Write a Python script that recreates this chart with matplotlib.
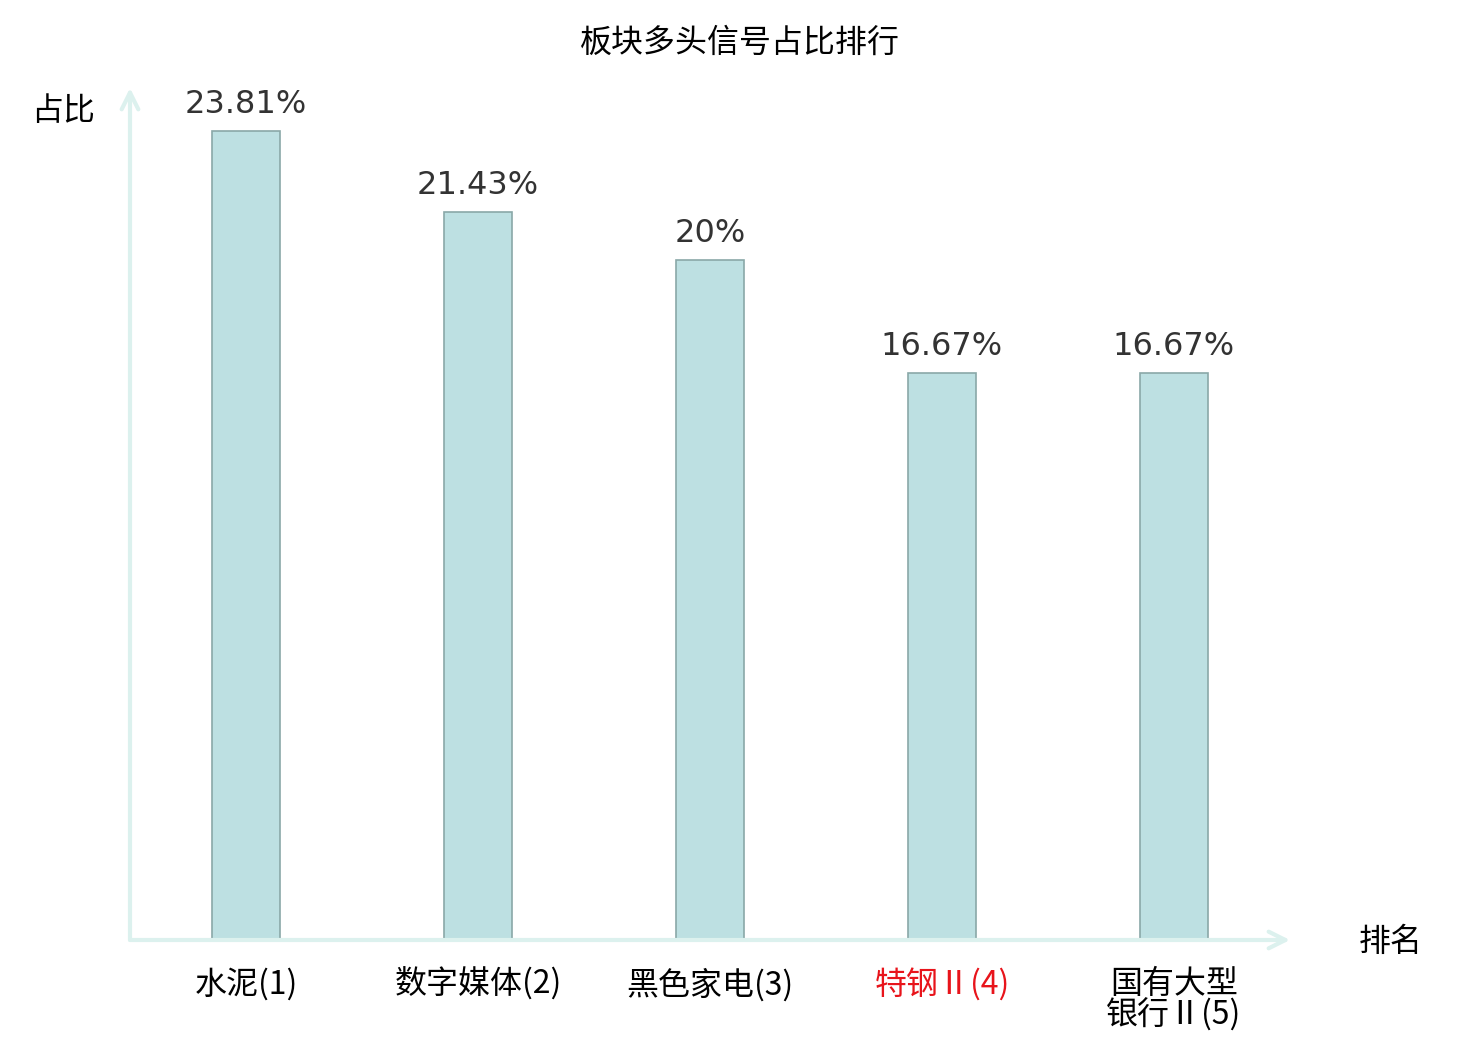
import matplotlib
matplotlib.use('Agg')
import matplotlib.pyplot as plt

plt.rcParams['font.family'] = ['Noto Sans CJK SC', 'DejaVu Sans']

# ── data ──
categories = ['水泥(1)', '数字媒体(2)', '黑色家电(3)', '特钢Ⅱ(4)', '国有大型\n银行Ⅱ(5)']
values = [23.81, 21.43, 20.0, 16.67, 16.67]
value_labels = ['23.81%', '21.43%', '20%', '16.67%', '16.67%']
label_colors = ['black', 'black', 'black', '#e8141b', 'black']

axis_color = '#dcf1ee'

fig = plt.figure(figsize=(14.8, 10.4), dpi=100)
W, H = 1480, 1040
ax = fig.add_axes([130 / W, (H - 940) / H, (1290 - 130) / W, (940 - 88) / H])

x = list(range(len(categories)))
ax.bar(x, values, width=0.293, color='#bde0e2', edgecolor='#8aa8a8', linewidth=1.2, zorder=3)

for xi, v, lab in zip(x, values, value_labels):
    ax.annotate(lab, (xi, v), xytext=(0, 8), textcoords='offset points',
                ha='center', va='bottom', fontsize=23, color='#333333',
                family='DejaVu Sans')

ax.set_xlim(-0.5, 4.5)
ax.set_ylim(0, 25.07)
for s in ax.spines.values():
    s.set_visible(False)
ax.set_yticks([])
ax.set_xticks(x)
ax.set_xticklabels(categories, fontsize=23, va='top', linespacing=0.95)
for t, c in zip(ax.get_xticklabels(), label_colors):
    t.set_color(c)
ax.tick_params(axis='x', length=0, pad=20)

# axis arrows
ax.annotate('', xy=(1, 0), xytext=(0, 0), xycoords='axes fraction',
            arrowprops=dict(arrowstyle='->', color=axis_color, lw=3,
                            mutation_scale=30, shrinkA=0, shrinkB=0))
ax.annotate('', xy=(0, 1), xytext=(0, 0), xycoords='axes fraction',
            arrowprops=dict(arrowstyle='->', color=axis_color, lw=3,
                            mutation_scale=30, shrinkA=0, shrinkB=0))

fig.text(740 / W, 1 - 43 / H, '板块多头信号占比排行', ha='center', va='center', fontsize=23)
fig.text(63 / W, 1 - 111 / H, '占比', ha='center', va='center', fontsize=23)
fig.text(1391 / W, 1 - 942 / H, '排名', ha='center', va='center', fontsize=23)

fig.savefig('out.png', dpi=100)
